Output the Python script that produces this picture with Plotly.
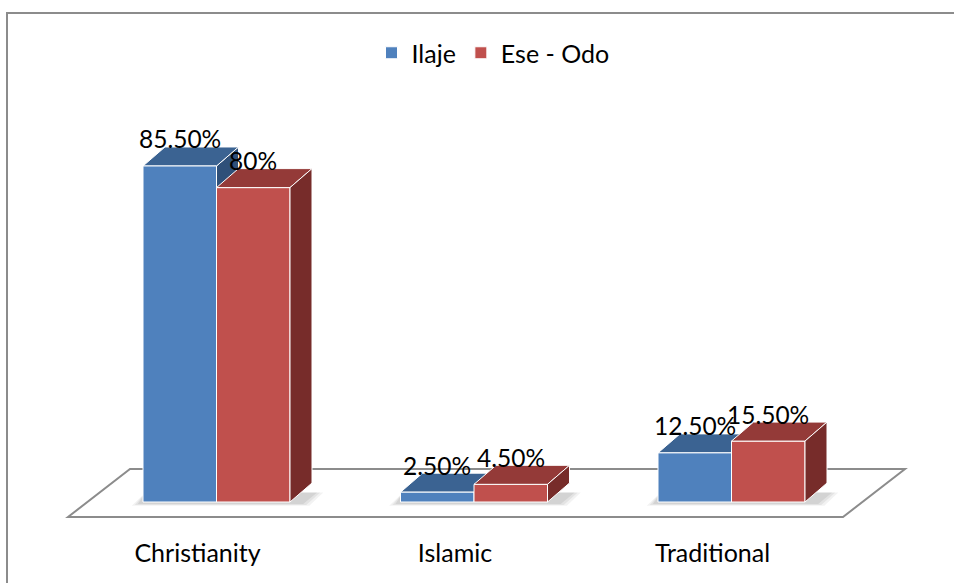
import plotly.graph_objects as go

# ---------------- data ----------------
categories = ["Christianity", "Islamic", "Traditional"]
series_names = ["Ilaje", "Ese - Odo"]
ilaje = [85.5, 2.5, 12.5]
ese_odo = [80.0, 4.5, 15.5]
ilaje_labels = ["85.50%", "2.50%", "12.50%"]
ese_odo_labels = ["80%", "4.50%", "15.50%"]

# ---------------- layout geometry ----------------
W, H = 954, 583
PAGE_OFF = 0            # body margin removed by post_script
ML, MR, MT, MB = 0, 0, 0, 47
plot_w = W - ML - MR
plot_h = H - MT - MB
PX_PER_CAT = 257.5      # pixels per category step
PX_PER_PCT = 3.93       # pixels per percentage point
ORIGIN_X, ORIGIN_Y = 216.5 - PAGE_OFF, 502 - PAGE_OFF   # category 0 centre / zero level

x_range = [-(ORIGIN_X - ML) / PX_PER_CAT, (W - MR - ORIGIN_X) / PX_PER_CAT]
y_range = [-(MT + plot_h - ORIGIN_Y) / PX_PER_PCT, (ORIGIN_Y - MT) / PX_PER_PCT]

BW = 73.5 / PX_PER_CAT          # bar width (category units)
DX = 22 / PX_PER_CAT            # 3D depth offset x
DY = 19 / PX_PER_PCT            # 3D depth offset y
TICK_SHIFT = -19 / PX_PER_CAT
LABEL_GAP = 8 / PX_PER_PCT

FONT = "Lato, 'Open Sans', sans-serif"
BLUE_FRONT, BLUE_TOP, BLUE_SIDE = "#4F81BD", "#3B6392", "#2F5079"
RED_FRONT, RED_TOP, RED_SIDE = "#C0504D", "#943A38", "#772C2A"
GRID_GREY = "#8C8C8C"


def px_to_x(px):
    return (px - PAGE_OFF - ORIGIN_X) / PX_PER_CAT


def px_to_y(py):
    return (ORIGIN_Y - (py - PAGE_OFF)) / PX_PER_PCT


def px_to_paper_x(px):
    return (px - PAGE_OFF - ML) / plot_w


def px_to_paper_y(py):
    return 1 - (py - PAGE_OFF - MT) / plot_h


def poly(points):
    return "M " + " L ".join(f"{x},{y}" for x, y in points) + " Z"


xs = list(range(len(categories)))

fig = go.Figure()
fig.add_trace(go.Bar(
    x=xs, y=ilaje, name=series_names[0], width=BW, offset=-BW,
    marker=dict(color=BLUE_FRONT, line=dict(color="white", width=1)),
    hoverinfo="skip",
))
fig.add_trace(go.Bar(
    x=xs, y=ese_odo, name=series_names[1], width=BW, offset=0,
    marker=dict(color=RED_FRONT, line=dict(color="white", width=1)),
    hoverinfo="skip",
))

shapes = []
# floor of the 3D chart
floor_pts = [(px_to_x(68), px_to_y(517)), (px_to_x(130), px_to_y(469)),
             (px_to_x(905), px_to_y(469)), (px_to_x(843), px_to_y(517))]
shapes.append(dict(type="path", path=poly(floor_pts), xref="x", yref="y",
                   fillcolor="white", line=dict(color=GRID_GREY, width=2),
                   layer="below"))
# soft shadows under each bar cluster
for i in xs:
    x0, x1 = i - BW, i + BW
    for k, a in enumerate([0.05, 0.06, 0.07]):
        g = 0.012 * (2 - k)
        sh = [(x0 - 0.02 - g, -0.5 - g * 20), (x1 + DX * 0.6 + g, -0.5 - g * 20),
              (x1 + DX + 0.02 + g, DY * 0.5), (x0 + 0.01, DY * 0.5)]
        shapes.append(dict(type="path", path=poly(sh), xref="x", yref="y",
                           fillcolor=f"rgba(0,0,0,{a})", line=dict(width=0),
                           layer="below"))

for i in xs:
    vb, vr = ilaje[i], ese_odo[i]
    bx0, bx1 = i - BW, i
    rx0, rx1 = i, i + BW
    # blue top and side (below traces, so the red front hides what it should)
    shapes.append(dict(type="path", xref="x", yref="y", layer="below",
                       path=poly([(bx1, 0), (bx1, vb), (bx1 + DX, vb + DY), (bx1 + DX, DY)]),
                       fillcolor=BLUE_SIDE, line=dict(color="white", width=1)))
    shapes.append(dict(type="path", xref="x", yref="y", layer="below",
                       path=poly([(bx0, vb), (bx1, vb), (bx1 + DX, vb + DY), (bx0 + DX, vb + DY)]),
                       fillcolor=BLUE_TOP, line=dict(color="white", width=1)))
    # red top and side
    shapes.append(dict(type="path", xref="x", yref="y", layer="above",
                       path=poly([(rx0, vr), (rx1, vr), (rx1 + DX, vr + DY), (rx0 + DX, vr + DY)]),
                       fillcolor=RED_TOP, line=dict(color="white", width=1)))
    shapes.append(dict(type="path", xref="x", yref="y", layer="above",
                       path=poly([(rx1, 0), (rx1, vr), (rx1 + DX, vr + DY), (rx1 + DX, DY)]),
                       fillcolor=RED_SIDE, line=dict(color="white", width=1)))

# outer chart border (top and left edges visible)
bx = px_to_paper_x(7)
by_top = px_to_paper_y(13)
by_bot = px_to_paper_y(H + 20)
shapes.append(dict(type="path", xref="paper", yref="paper", layer="above",
                   path=f"M {bx},{by_bot} L {bx},{by_top} L {px_to_paper_x(W + 20)},{by_top}",
                   line=dict(color=GRID_GREY, width=2)))

annotations = []
for i in xs:
    annotations.append(dict(x=i - BW / 2, y=ilaje[i] + DY + LABEL_GAP, xref="x", yref="y",
                            text=ilaje_labels[i], showarrow=False, yanchor="middle",
                            font=dict(family=FONT, size=24.5, color="black")))
    annotations.append(dict(x=i + BW / 2, y=ese_odo[i] + DY + LABEL_GAP, xref="x", yref="y",
                            text=ese_odo_labels[i], showarrow=False, yanchor="middle",
                            font=dict(family=FONT, size=24.5, color="black")))

fig.update_layout(
    width=W, height=H,
    margin=dict(l=ML, r=MR, t=MT, b=MB, pad=0),
    paper_bgcolor="white", plot_bgcolor="white",
    barmode="overlay",
    font=dict(family=FONT, size=25, color="black"),
    shapes=shapes, annotations=annotations,
    showlegend=True,
    legend=dict(orientation="h", x=px_to_paper_x(493), xanchor="center",
                y=px_to_paper_y(53), yanchor="middle",
                font=dict(family=FONT, size=25, color="black"),
                bgcolor="rgba(0,0,0,0)", traceorder="normal"),
    xaxis=dict(range=x_range, tickvals=[i + TICK_SHIFT for i in xs], ticktext=categories,
               showgrid=False, zeroline=False, showline=False, ticks="",
               tickfont=dict(family=FONT, size=25, color="black"), fixedrange=True),
    yaxis=dict(range=y_range, visible=False, showgrid=False, zeroline=False, fixedrange=True),
)

fig.write_html("out.html", config={"displayModeBar": False},
               post_script="document.body.style.margin='0';")
